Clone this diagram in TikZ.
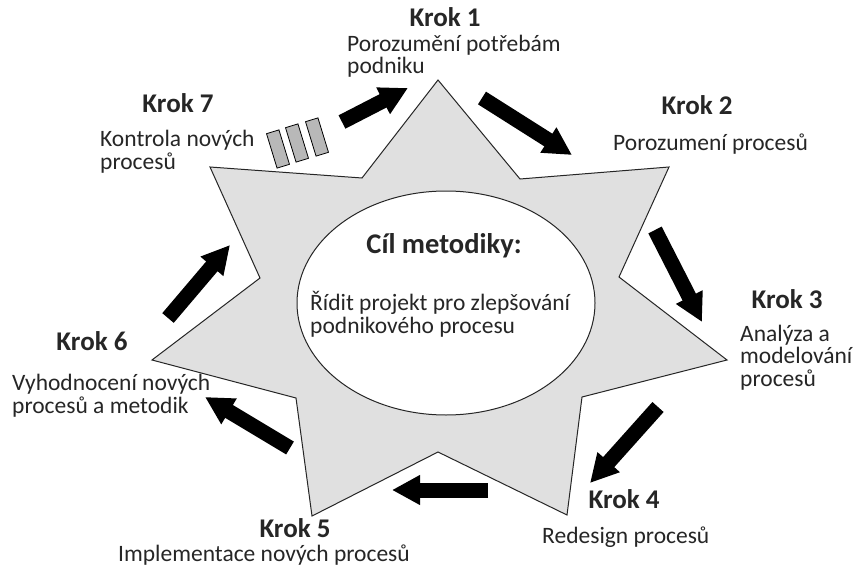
\documentclass[tikz,border=0pt]{standalone}
\usepackage{fontspec}
\setmainfont{Carlito}
\usepackage{tikz}
\usetikzlibrary{arrows.meta, positioning}

\tikzset{
  krok/.style={font=\fontsize{27}{30}\selectfont\bfseries, text=black!85, inner sep=0pt, anchor=base},
  popis/.style={font=\fontsize{23.5}{22.5}\selectfont, text=black!85, align=left, inner sep=0pt, anchor=base west},
  sipka/.style={line width=15pt, -{Triangle[width=28pt,length=28pt]}},
  blok/.style={draw=black, fill=black!28, line width=0.8pt, minimum width=13pt, minimum height=36pt, inner sep=0pt, rotate=17},
}

\begin{document}
\begin{tikzpicture}[x=1pt, y=-1pt]
       \useasboundingbox[fill=white] (0,0) rectangle (856,567);

       % star
       \filldraw[fill=black!12, draw=black!85, line width=1pt]
         (438,80) -- (520,179) -- (669,167) -- (619,277) -- (727,360) -- (582,397)
         -- (567,515) -- (438,452) -- (312,516) -- (296,398) -- (152,360)
         -- (260,278) -- (210,167) -- (362,178) -- cycle;
       \filldraw[fill=white, draw=black!85, line width=1pt] (446,303) ellipse (149 and 112);

       % center (base = last line)
       \node[krok, font=\fontsize{28.5}{30}\selectfont\bfseries] (cil) at (444,253) {Cíl metodiky:};
       \node[popis] (cilpopis) at (310,333) {Řídit projekt pro zlepšování\\podnikového procesu};

       % steps
       \node[krok] (k1) at (445,27) {Krok 1};
       \node[popis] (p1) at (347,74) {Porozumění potřebám\\podniku};
       \node[krok] (k2) at (697,115) {Krok 2};
       \node[popis] (p2) at (613,150) {Porozumení procesů};
       \node[krok] (k3) at (787,308) {Krok 3};
       \node[popis] (p3) at (740,386) {Analýza a\\modelování\\procesů};
       \node[krok] (k4) at (624,508) {Krok 4};
       \node[popis] (p4) at (542,543) {Redesign procesů};
       \node[krok] (k5) at (295,537) {Krok 5};
       \node[popis] (p5) at (118,561) {Implementace nových procesů};
       \node[krok] (k6) at (92,350) {Krok 6};
       \node[popis] (p6) at (12,413) {Vyhodnocení nových\\procesů a metodik};
       \node[krok] (k7) at (178,113) {Krok 7};
       \node[popis] (p7) at (100,169) {Kontrola nových\\procesů};

       % gray blocks
       \node[blok] (b1) at (278,149) {};
       \node[blok] (b2) at (297,143) {};
       \node[blok] (b3) at (317,137) {};

       % arrows
       \coordinate (t1) at (342,122); \coordinate (h1) at (408,88);
       \coordinate (t2) at (482,98);  \coordinate (h2) at (572,155);
       \coordinate (t3) at (655,230); \coordinate (h3) at (702,322);
       \coordinate (t4) at (658,407); \coordinate (h4) at (590,483);
       \coordinate (t5) at (488,490); \coordinate (h5) at (392,490);
       \coordinate (t6) at (290,448); \coordinate (h6) at (205,397);
       \coordinate (t7) at (168,318); \coordinate (h7) at (230,245);
       \foreach \i in {1,...,7}
         \draw[sipka] (t\i) -- (h\i);
    \end{tikzpicture}
\end{document}
